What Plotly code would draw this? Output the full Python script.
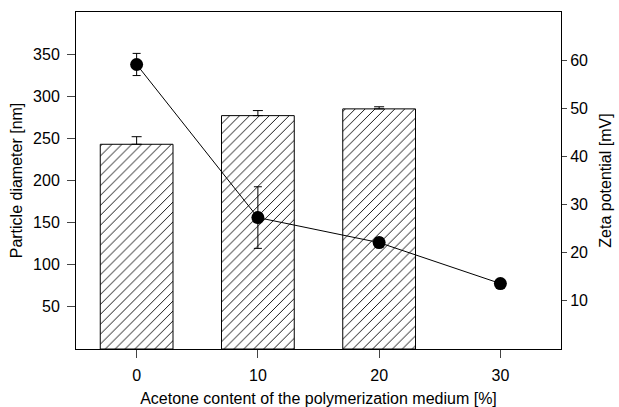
import plotly.graph_objects as go

acetone = [0, 10, 20, 30]
bar_x = [0, 10, 20]
diameter = [243, 277, 285]
diameter_err = [9, 6, 2.5]
zeta = [59.1, 27.3, 22.1, 13.6]
zeta_err = [2.3, 6.4, 1.0, 0.0]

FONT = "Liberation Sans, Arial, sans-serif"

fig = go.Figure()
fig.add_trace(go.Bar(
    x=bar_x, y=diameter, width=6,
    marker=dict(color="white", line=dict(color="black", width=1),
                pattern=dict(shape="/", size=7, solidity=0.13, fgcolor="black",
                             fgopacity=1, bgcolor="white")),
    error_y=dict(type="data", array=diameter_err, arrayminus=[0, 0, 0], symmetric=False,
                 color="black", thickness=1, width=5),
    showlegend=False,
))
fig.add_trace(go.Scatter(
    x=acetone, y=zeta, yaxis="y2", mode="lines+markers",
    line=dict(color="black", width=1),
    marker=dict(color="black", size=13),
    error_y=dict(type="data", array=zeta_err, color="black", thickness=1, width=4),
    showlegend=False,
))

fig.update_layout(
    width=619, height=407,
    margin=dict(l=76, r=58, t=12, b=58),
    paper_bgcolor="white", plot_bgcolor="white",
    font=dict(family=FONT, size=16, color="black"),
    xaxis=dict(range=[-5, 35], tickvals=acetone, ticks="outside", ticklen=8,
               tickfont=dict(size=16), ticklabelstandoff=4, automargin=False,
               showline=True, linecolor="black", linewidth=1, mirror=True,
               showgrid=False, zeroline=False,
               title=dict(text="Acetone content of the polymerization medium [%]",
                          font=dict(size=16), standoff=9)),
    yaxis=dict(range=[0, 400], tickvals=[50, 100, 150, 200, 250, 300, 350],
               ticks="outside", ticklen=8, tickfont=dict(size=16), ticklabelstandoff=4,
               automargin=False,
               showline=True, linecolor="black", linewidth=1,
               showgrid=False, zeroline=False,
               title=dict(text="Particle diameter [nm]", font=dict(size=16), standoff=6)),
    yaxis2=dict(range=[0, 70], tickvals=[10, 20, 30, 40, 50, 60], overlaying="y", side="right",
                ticks="outside", ticklen=5, tickfont=dict(size=16), automargin=False,
                showline=True, linecolor="black", linewidth=1,
                showgrid=False, zeroline=False,
                title=dict(text="Zeta potential [mV]", font=dict(size=16), standoff=12)),
)

fig.write_html("out.html")
